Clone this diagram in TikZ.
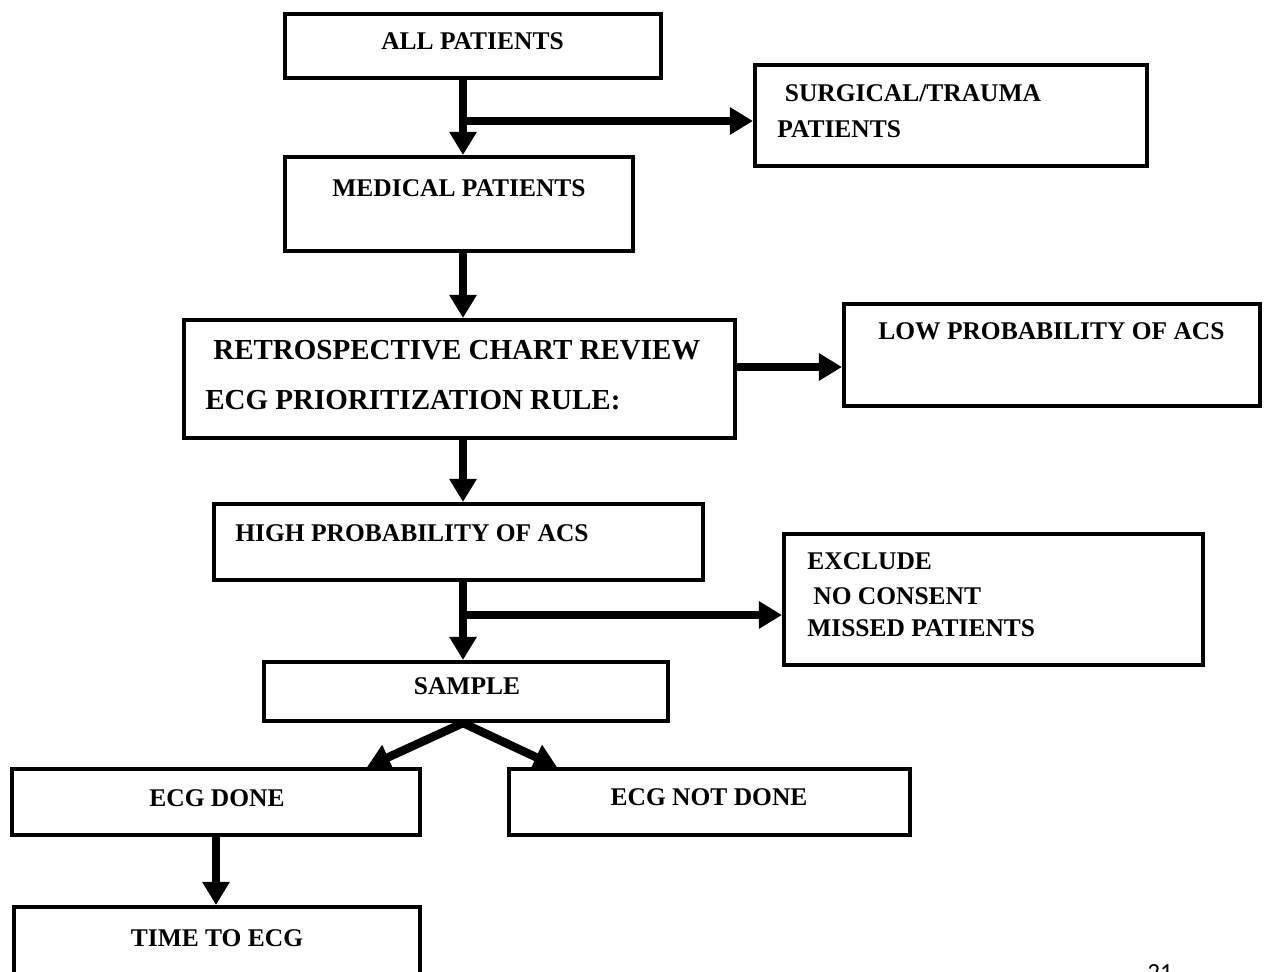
\documentclass[tikz,border=0pt]{standalone}
\usepackage{fontspec}
\setmainfont{Liberation Serif}
\newfontfamily\pagefont{Carlito}
\usetikzlibrary{arrows.meta}

\begin{document}
\begin{tikzpicture}

					\tikzstyle{box} = [
						draw,
						rectangle,
						line width=2.3pt,
						inner sep=0pt
					]
					\tikzstyle{lbl} = [
						inner sep=0pt,
						font=\bfseries\fontsize{14.5}{17}\selectfont
					]
					\tikzstyle{biglbl} = [
						inner sep=0pt,
						font=\bfseries\fontsize{16.5}{19}\selectfont
					]
					\tikzstyle{flow} = [
						line width=4.8pt,
						-{Triangle[width=0.52cm,length=0.46cm]}
					]

					\useasboundingbox (0,0) rectangle (25.42,-19.44);

					% boxes
					\node (all) [box, minimum width=7.52cm, minimum height=1.28cm] at (9.46,-0.92) {};
					\node (surg) [box, minimum width=7.84cm, minimum height=2.02cm] at (19.02,-2.31) {};
					\node (med) [box, minimum width=6.96cm, minimum height=1.88cm] at (9.18,-4.08) {};
					\node (retro) [box, minimum width=11.02cm, minimum height=2.36cm] at (9.19,-7.58) {};
					\node (low) [box, minimum width=8.32cm, minimum height=2.04cm] at (21.04,-7.10) {};
					\node (high) [box, minimum width=9.78cm, minimum height=1.52cm] at (9.17,-10.84) {};
					\node (excl) [box, minimum width=8.38cm, minimum height=2.62cm] at (19.87,-11.99) {};
					\node (sample) [box, minimum width=8.08cm, minimum height=1.18cm] at (9.32,-13.83) {};
					\node (done) [box, minimum width=8.16cm, minimum height=1.32cm] at (4.32,-16.04) {};
					\node (notdone) [box, minimum width=8.02cm, minimum height=1.32cm] at (14.19,-16.04) {};
					\node (time) [box, minimum width=8.12cm, minimum height=1.56cm] at (4.34,-18.92) {};

					% texts
					\node (allT) [lbl, anchor=base] at (9.45,-1.00) {ALL PATIENTS};
					\node (surgT1) [lbl, anchor=base west] at (15.69,-2.04) {SURGICAL/TRAUMA};
					\node (surgT2) [lbl, anchor=base west] at (15.54,-2.76) {PATIENTS};
					\node (medT) [lbl, anchor=base] at (9.18,-3.94) {MEDICAL PATIENTS};
					\node (retroT1) [biglbl, anchor=base west] at (4.26,-7.20) {RETROSPECTIVE CHART REVIEW};
					\node (retroT2) [biglbl, anchor=base west] at (4.10,-8.20) {ECG PRIORITIZATION RULE:};
					\node (lowT) [lbl, anchor=base west] at (17.56,-6.80) {LOW PROBABILITY OF ACS};
					\node (highT) [lbl, anchor=base west] at (4.70,-10.84) {HIGH PROBABILITY OF ACS};
					\node (exclT1) [lbl, anchor=base west] at (16.14,-11.40) {EXCLUDE};
					\node (exclT2) [lbl, anchor=base west] at (16.26,-12.10) {NO CONSENT};
					\node (exclT3) [lbl, anchor=base west] at (16.14,-12.74) {MISSED PATIENTS};
					\node (sampleT) [lbl, anchor=base] at (9.34,-13.90) {SAMPLE};
					\node (doneT) [lbl, anchor=base] at (4.34,-16.14) {ECG DONE};
					\node (notdoneT) [lbl, anchor=base] at (14.18,-16.12) {ECG NOT DONE};
					\node (timeT) [lbl, anchor=base] at (4.34,-18.94) {TIME TO ECG};
					\node (page) [inner sep=0pt, anchor=base, font=\pagefont\fontsize{14}{16}\selectfont] at (23.2,-19.60) {21};

					% arrows
					\coordinate (spine) at (9.26,0);
					\coordinate (split1) at (9.26,-2.42);
					\coordinate (split3) at (9.26,-12.30);

					\draw [flow] (all.south -| spine) -- (med.north -| spine);
					\draw [flow] (split1) -- (split1 -| surg.west);
					\draw [flow] (med.south -| spine) -- (retro.north -| spine);
					\draw [flow] ([yshift=0.24cm]retro.east) -- ([yshift=0.24cm]retro.east -| low.west);
					\draw [flow] (retro.south -| spine) -- (high.north -| spine);
					\draw [flow] (high.south -| spine) -- (sample.north -| spine);
					\draw [flow] (split3) -- (split3 -| excl.west);
					\draw [flow] (sample.south -| spine) -- ([xshift=-1.1cm]done.north east);
					\draw [flow] (sample.south -| spine) -- ([xshift=1.0cm]notdone.north west);
					\draw [flow] (done.south) -- (done.south |- time.north);

				\end{tikzpicture}
\end{document}
